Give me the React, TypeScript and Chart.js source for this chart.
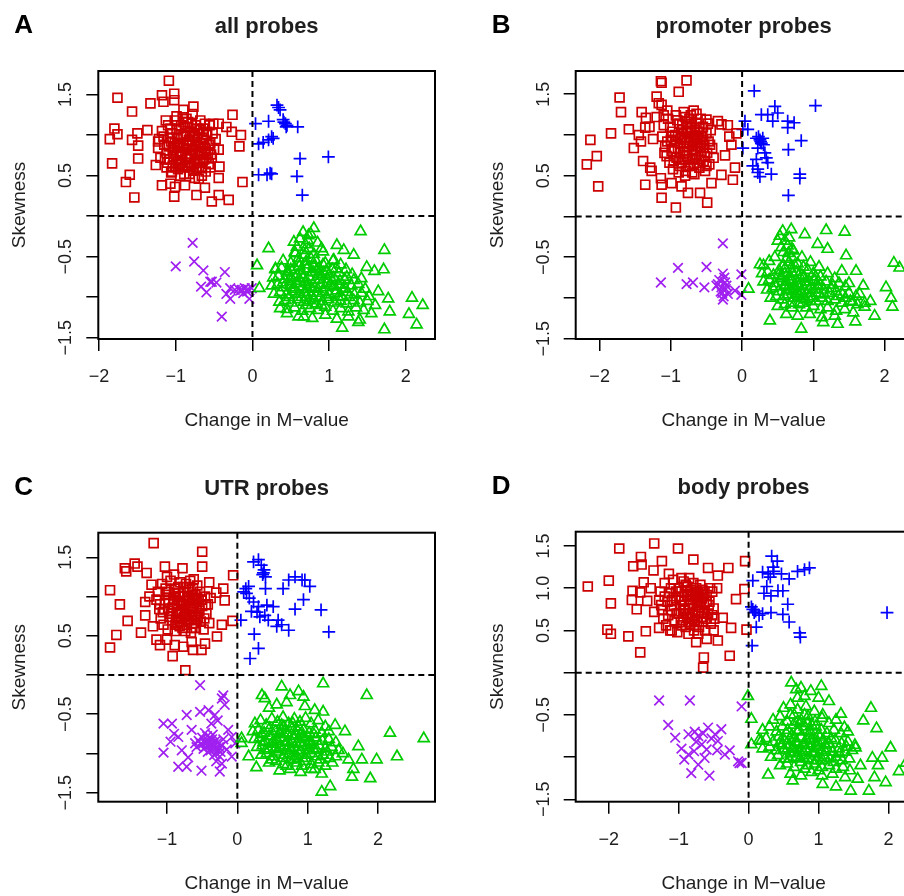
import React, { useEffect, useRef } from "react";
import { Chart, registerables } from "chart.js";
Chart.register(...registerables);

const FONT = '"Liberation Sans", Arial, Helvetica, sans-serif';
const TEXT = "#1e1e1e";
const RED = "#CC0000";
const BLUE = "#0000FF";
const GREEN = "#00CC00";
const PURPLE = "#A020F0";

const LETTERS = ["A", "B", "C", "D"];
const TITLES = ["all probes", "promoter probes", "UTR probes", "body probes"];
const X_LABEL = "Change in M\u2212value";
const Y_LABEL = "Skewness";

const X_TICKS_A = [-2, -1, 0, 1, 2];
const X_TICKS_B = [-2, -1, 0, 1, 2];
const X_TICKS_C = [-1, 0, 1, 2];
const X_TICKS_D = [-2, -1, 0, 1, 2];
const Y_TICKS = [-1.5, -1, -0.5, 0, 0.5, 1, 1.5];
const Y_LABELS_ABC = [-1.5, -0.5, 0.5, 1.5];
const Y_LABELS_D = [-1.5, -0.5, 0.5, 1, 1.5];

const X_RANGE_A = [-2.01, 2.38];
const X_RANGE_B = [-2.336, 2.378];
const X_RANGE_C = [-1.977, 2.81];
const X_RANGE_D = [-2.473, 2.33];
const Y_RANGE_A = [-1.516, 1.79];
const Y_RANGE_B = [-1.503, 1.785];
const Y_RANGE_C = [-1.615, 1.813];
const Y_RANGE_D = [-1.528, 1.669];

type P = [number, number];

// ---------------- Panel A: all probes ----------------
const A_RED: P[] = [
  [-1.09,1.67],[-1.76,1.46],[-1.02,1.51],[-1.02,1.43],[-1.18,1.49],[-1.33,1.39],[-1.16,1.41],[-1.57,1.29],[-1.8,1.08],[-1.76,1.01],
  [-1.86,0.95],[-1.57,0.94],[-1.5,1.02],[-1.37,1.06],[-1.49,0.87],[-1.49,0.71],[-1.83,0.65],[-1.6,0.51],[-1.65,0.42],[-1.54,0.23],
  [-1.02,0.24],[-0.88,0.38],[-0.53,0.18],[-0.31,0.2],[-0.44,0.26],[-0.73,0.26],[-0.62,0.35],[-0.44,0.47],[-0.43,0.61],[-0.13,0.42],
  [-0.17,0.86],[-0.15,1.0],[-0.27,1.04],[-0.26,1.25],[-0.44,1.14],[-0.44,0.82],[-0.77,1.35],[-0.9,1.31],[-0.99,1.23],[-1.07,0.4],
  [-1.18,0.38],[-1.01,0.36],[-1.26,0.63],[-1.23,0.84],[-1.23,0.92],[-0.34,1.1],[-0.51,1.14],[-0.75,0.47],[-0.66,0.59],[-1.05,0.55],
  [-1.22,0.95],[-1.18,1.05],[-1.15,0.88],[-1.12,0.78],[-1.1,1.12],[-1.08,0.7],[-1.06,0.92],[-1.05,1.02],[-1.04,0.62],[-1.02,0.84],
  [-1.0,1.18],[-0.99,0.74],[-0.98,0.96],[-0.97,0.58],[-0.96,1.08],[-0.95,0.86],[-0.94,0.66],[-0.93,1.0],[-0.92,0.78],[-0.91,1.22],
  [-0.9,0.9],[-0.89,0.52],[-0.88,1.1],[-0.87,0.7],[-0.86,0.98],[-0.85,0.82],[-0.84,1.16],[-0.83,0.62],[-0.82,0.92],[-0.81,1.04],
  [-0.8,0.74],[-0.79,0.88],[-0.78,1.26],[-0.77,0.56],[-0.76,0.98],[-0.75,0.8],[-0.74,1.12],[-0.73,0.68],[-0.72,0.94],[-0.71,1.02],
  [-0.7,0.6],[-0.69,0.86],[-0.68,1.18],[-0.67,0.76],[-0.66,0.5],[-0.65,0.96],[-0.64,1.08],[-0.63,0.7],[-0.62,0.84],[-0.61,0.55],
  [-0.6,1.0],[-0.58,0.78],[-0.57,0.64],[-0.56,1.12],[-0.55,0.9],[-0.53,0.72],[-0.52,1.02],[-0.5,0.82],[-0.48,0.95],[-1.2,0.72],
  [-1.16,0.98],[-1.13,1.18],[-1.11,0.66],[-1.09,0.86],[-1.07,1.08],[-1.03,0.74],[-1.01,0.9],[-0.99,1.06],[-0.97,0.68],[-0.95,0.8],
  [-0.93,1.12],[-0.91,0.6],[-0.89,0.84],[-0.87,1.02],[-0.85,0.72],[-0.83,0.94],[-0.81,0.66],[-0.79,1.14],[-0.77,0.82],[-0.75,1.0],
  [-0.73,0.58],[-0.71,0.86],[-0.69,1.06],[-0.67,0.9],[-0.65,0.68],[-0.63,0.94],[-0.61,0.8],[-0.59,1.04],[-0.57,0.88],[-0.55,0.6],
  [-0.54,0.76],[-1.06,0.54],[-1.0,0.6],[-0.94,0.5],[-0.9,1.16],[-0.86,1.2],[-0.82,0.52],[-0.76,0.64],[-0.7,0.46],[-0.66,0.6],[-0.62,1.14],
  [-0.98,0.88],[-0.94,0.76],[-0.9,1.0],[-0.86,0.88],[-0.82,0.76],[-0.78,1.0],[-0.74,0.88],[-0.7,0.76],[-0.96,0.64],[-0.88,0.62],
  [-0.8,0.6],[-1.04,0.82],[-1.08,0.96],[-0.72,1.08],[-0.64,0.9],[-0.68,0.66],[-1.12,0.6],[-1.14,0.7],[-0.6,0.72],[-0.84,1.1]
];
const A_BLUE: P[] = [
  [0.32,1.37],[0.36,1.31],[0.34,1.34],[0.04,1.14],[0.21,1.17],[0.4,1.19],[0.43,1.14],[0.45,1.12],[0.59,1.1],[0.41,1.16],
  [0.44,1.1],[0.08,0.89],[0.14,0.91],[0.21,0.94],[0.27,0.96],[0.25,0.98],[0.62,0.71],[0.99,0.73],[0.08,0.51],[0.19,0.51],
  [0.23,0.53],[0.25,0.52],[0.58,0.49],[0.65,0.26]
];
const A_GREEN: P[] = [
  [0.21,-0.4],[0.06,-0.61],[0.09,-0.89],[1.41,-0.19],[1.72,-0.42],[1.71,-0.66],[1.59,-0.68],[1.49,-0.63],[1.32,-0.48],[2.08,-1.01],
  [2.22,-1.1],[2.04,-1.21],[2.14,-1.34],[1.72,-1.4],[1.77,-1.02],[1.79,-1.18],[1.64,-0.93],[1.38,-1.31],[1.17,-1.38],[0.67,-1.24],
  [0.45,-1.2],[0.36,-1.14],[0.8,-0.15],[0.73,-0.24],[0.54,-0.32],[0.9,-0.4],[1.1,-0.36],[1.19,-0.42],[1.06,-0.54],[0.3,-0.65],[0.56,-0.46],
  [0.55,-0.45],[0.68,-0.42],[0.8,-0.47],[0.92,-0.44],[0.62,-0.28],[0.72,-0.3],[0.85,-0.33],[0.66,-0.2],[0.76,-0.22],
  [0.4,-0.55],[0.5,-0.58],[0.6,-0.52],[0.7,-0.56],[0.82,-0.54],[0.95,-0.58],[1.05,-0.55],[1.15,-0.6],
  [0.3,-0.66],[0.38,-0.64],[0.46,-0.68],[0.55,-0.63],[0.63,-0.67],[0.71,-0.65],[0.79,-0.69],[0.87,-0.64],[0.96,-0.68],[1.04,-0.66],[1.13,-0.7],[1.22,-0.66],[1.3,-0.72],
  [0.27,-0.76],[0.34,-0.74],[0.42,-0.78],[0.5,-0.75],[0.58,-0.73],[0.66,-0.77],[0.74,-0.75],[0.82,-0.79],[0.9,-0.74],[0.98,-0.78],[1.06,-0.76],[1.14,-0.8],[1.23,-0.75],[1.32,-0.79],[1.42,-0.77],
  [0.25,-0.86],[0.33,-0.84],[0.41,-0.88],[0.49,-0.85],[0.57,-0.83],[0.65,-0.87],[0.73,-0.84],[0.81,-0.88],[0.89,-0.85],[0.97,-0.83],[1.05,-0.87],[1.13,-0.85],[1.21,-0.89],[1.29,-0.86],[1.38,-0.84],[1.47,-0.9],
  [0.28,-0.96],[0.36,-0.94],[0.44,-0.97],[0.52,-0.93],[0.6,-0.96],[0.68,-0.94],[0.76,-0.98],[0.84,-0.95],[0.92,-0.93],[1.0,-0.97],[1.08,-0.95],[1.16,-0.99],[1.24,-0.94],[1.33,-0.97],[1.42,-0.95],[1.52,-0.99],
  [0.35,-1.06],[0.43,-1.04],[0.51,-1.07],[0.59,-1.03],[0.67,-1.06],[0.75,-1.04],[0.83,-1.08],[0.91,-1.05],[0.99,-1.03],[1.07,-1.07],[1.15,-1.05],[1.23,-1.08],[1.32,-1.04],[1.4,-1.07],[1.5,-1.05],[1.6,-1.1],
  [0.45,-1.15],[0.55,-1.13],[0.65,-1.17],[0.75,-1.14],[0.85,-1.16],[0.95,-1.12],[1.05,-1.17],[1.15,-1.14],[1.25,-1.18],[1.35,-1.13],[1.45,-1.16],[1.55,-1.2],
  [0.6,-1.24],[0.78,-1.26],[0.95,-1.22],[1.1,-1.27],[1.25,-1.24],[1.4,-1.28],
  [0.7,-0.6],[0.62,-0.8],[0.78,-0.9],[0.86,-0.72],[0.7,-1.0],[0.95,-0.88],[0.55,-0.9],[0.64,-0.72],[0.88,-1.0],[1.1,-0.92],[0.5,-0.8],[0.8,-0.62],[1.0,-0.72],[0.74,-0.4],[0.69,-0.35],[0.58,-0.38],
  [0.45,-0.7],[0.53,-0.88],[0.61,-0.62],[0.69,-0.82],[0.77,-0.7],[0.85,-0.9],[0.93,-0.7],[1.01,-0.85],[1.09,-0.65],[0.48,-1.0],
  [0.56,-0.76],[0.64,-1.0],[0.72,-0.9],[0.8,-1.02],[0.88,-0.78],[0.96,-1.0],[1.04,-0.8],[1.12,-1.0],[0.4,-0.82],[0.6,-0.58],
  [0.76,-0.52],[0.84,-0.66],[0.68,-0.48],[0.92,-0.6],[1.18,-0.9],[1.26,-1.0],[0.7,-1.1],[0.9,-1.1],[1.2,-0.78],[0.5,-0.66]
];
const A_PURPLE: P[] = [
  [-0.78,-0.33],[-1.0,-0.62],[-0.76,-0.56],[-0.64,-0.67],[-0.53,-0.81],[-0.47,-0.82],[-0.36,-0.69],[-0.67,-0.87],[-0.6,-0.94],[-0.34,-0.96],
  [-0.29,-0.89],[-0.29,-1.02],[-0.23,-0.91],[-0.14,-0.91],[-0.1,-0.89],[-0.07,-0.93],[-0.04,-1.02],[-0.01,-0.89],[-0.4,-1.24],[-0.55,-0.81],
  [-0.18,-0.9],[-0.12,-0.95],[-0.06,-0.9],[-0.16,-0.92]
];

// ---------------- Panel B: promoter probes ----------------
const B_RED: P[] = [
  [-1.14,1.66],[-1.13,1.64],[-0.78,1.67],[-0.89,1.53],[-1.72,1.46],[-1.7,1.28],[-2.13,0.94],[-2.04,0.74],[-2.18,0.64],[-2.02,0.37],
  [-1.84,1.02],[-1.59,1.07],[-1.41,1.28],[-1.2,1.47],[-1.17,1.39],[-1.13,1.37],[-1.35,1.21],[-1.36,1.09],[-1.52,0.84],[-1.39,0.68],
  [-1.29,0.6],[-1.36,0.39],[-1.14,0.47],[-1.13,0.23],[-0.93,0.11],[-0.76,0.29],[-0.59,0.29],[-0.49,0.17],[-0.43,0.41],[-0.29,0.51],
  [-0.13,0.45],[-0.1,0.6],[-0.08,1.02],[-0.15,0.88],[-0.29,1.13],[-0.34,1.17],[-0.5,1.19],[-0.99,0.41],[-0.85,0.37],[-1.13,0.39],
  [-1.27,0.56],[-1.45,1.0],[-1.42,0.92],[-1.3,1.1],[-1.25,0.95],[-0.2,1.12],[-0.24,0.75],[-0.18,0.98],[-1.2,1.22],[-1.1,1.24],[-1.05,1.3],
  [-1.12,0.98],[-1.1,1.12],[-1.08,0.86],[-1.06,0.74],[-1.04,1.2],[-1.02,0.66],[-1.0,0.94],[-0.98,1.04],[-0.97,0.58],[-0.95,0.84],
  [-0.93,1.24],[-0.92,0.72],[-0.9,0.98],[-0.89,0.54],[-0.88,1.14],[-0.86,0.9],[-0.85,0.66],[-0.84,1.06],[-0.83,0.8],[-0.82,1.28],
  [-0.8,0.94],[-0.79,0.56],[-0.78,1.16],[-0.77,0.74],[-0.76,1.02],[-0.75,0.86],[-0.74,1.2],[-0.73,0.62],[-0.72,0.96],[-0.71,1.08],
  [-0.7,0.7],[-0.69,0.88],[-0.68,1.3],[-0.67,0.52],[-0.66,1.0],[-0.65,0.8],[-0.64,1.14],[-0.63,0.66],[-0.62,0.94],[-0.61,1.04],
  [-0.6,0.6],[-0.59,0.84],[-0.58,1.2],[-0.57,0.74],[-0.56,0.98],[-0.55,1.1],[-0.54,0.68],[-0.53,0.88],[-0.52,0.56],[-0.5,1.02],
  [-0.49,0.78],[-0.47,0.92],[-0.46,0.64],[-0.44,1.06],[-0.42,0.84],[-0.4,0.72],[-1.09,0.78],[-1.05,0.92],[-1.01,1.1],[-0.99,0.8],
  [-0.96,0.68],[-0.94,1.0],[-0.91,1.18],[-0.87,0.78],[-0.84,0.98],[-0.81,0.7],[-0.78,0.9],[-0.76,0.62],[-0.73,1.1],[-0.7,0.82],
  [-0.68,0.98],[-0.66,0.72],[-0.63,0.9],[-0.6,1.08],[-0.58,0.8],[-0.55,0.94],[-0.52,0.74],[-0.5,0.62],[-0.48,1.14],[-0.45,0.88],
  [-0.8,1.22],[-0.72,1.24],[-0.64,1.26],[-0.88,0.62],[-0.8,0.5],[-0.7,0.54],
  [-0.86,0.96],[-0.82,0.86],[-0.78,1.04],[-0.74,0.94],[-0.7,0.8],[-0.66,1.06],[-0.62,0.86],[-0.58,0.98],[-0.9,0.84],[-0.94,0.92],
  [-0.76,0.7],[-0.68,0.64],[-0.84,1.12],[-0.72,1.16],[-0.6,0.7],[-0.54,0.84],[-0.98,0.98],[-0.88,0.7],[-0.64,0.96],[-0.8,0.78]
];
const B_BLUE: P[] = [
  [0.17,1.54],[1.03,1.36],[0.46,1.35],[0.5,1.27],[0.27,1.25],[0.36,1.25],[0.64,1.17],[0.73,1.15],[0.64,1.09],[0.43,1.17],
  [0.04,1.17],[0.01,1.07],[0.08,1.07],[0.2,0.96],[0.25,0.94],[0.27,0.9],[0.29,0.96],[0.22,0.84],[0.01,0.84],[0.83,0.93],
  [0.65,0.82],[0.34,0.72],[0.2,0.7],[0.15,0.62],[0.22,0.54],[0.25,0.49],[0.41,0.52],[0.81,0.52],[0.81,0.47],[0.65,0.26],
  [0.26,0.92],[0.23,0.98],[0.3,0.88],[0.32,0.78],[0.36,0.66],[0.22,0.58]
];
const B_GREEN: P[] = [
  [0.69,-0.16],[0.88,-0.22],[1.18,-0.17],[1.44,-0.19],[1.46,-0.48],[1.2,-0.4],[1.06,-0.34],[0.09,-0.89],[0.25,-0.59],[0.39,-1.28],
  [0.83,-1.38],[1.14,-1.3],[1.34,-1.32],[1.59,-1.29],[1.86,-1.22],[1.72,-1.11],[1.8,-1.04],[2.02,-0.87],[2.13,-0.57],[2.21,-0.63],
  [2.11,-1.11],[2.09,-1.0],[1.6,-0.67],[1.4,-0.67],[0.53,-0.24],[0.57,-0.18],[0.5,-0.3],[0.55,-0.38],[1.65,-0.95],[1.7,-0.85],[1.55,-1.05],[1.5,-0.82],
  [0.3,-0.6],[0.38,-0.55],[0.46,-0.5],[0.58,-0.44],[0.64,-0.36],[0.72,-0.42],[0.84,-0.5],[0.96,-0.56],[1.08,-0.62],
  [0.28,-0.7],[0.36,-0.68],[0.44,-0.72],[0.52,-0.66],[0.6,-0.7],[0.68,-0.64],[0.76,-0.68],[0.84,-0.72],[0.92,-0.66],[1.0,-0.7],[1.1,-0.74],[1.2,-0.7],[1.3,-0.76],
  [0.3,-0.8],[0.38,-0.78],[0.46,-0.82],[0.54,-0.76],[0.62,-0.8],[0.7,-0.78],[0.78,-0.82],[0.86,-0.76],[0.94,-0.8],[1.02,-0.78],[1.1,-0.84],[1.18,-0.8],[1.27,-0.84],[1.36,-0.82],[1.45,-0.86],
  [0.35,-0.9],[0.43,-0.88],[0.51,-0.92],[0.59,-0.86],[0.67,-0.9],[0.75,-0.88],[0.83,-0.92],[0.91,-0.86],[0.99,-0.9],[1.07,-0.94],[1.15,-0.9],[1.23,-0.94],[1.32,-0.92],[1.41,-0.96],[1.5,-0.94],[1.6,-0.98],
  [0.4,-1.0],[0.48,-0.98],[0.56,-1.02],[0.64,-0.96],[0.72,-1.0],[0.8,-0.98],[0.88,-1.02],[0.96,-0.98],[1.04,-1.04],[1.12,-1.0],[1.2,-1.04],[1.3,-1.02],[1.4,-1.06],[1.52,-1.04],[1.62,-1.08],[1.72,-1.06],
  [0.5,-1.1],[0.6,-1.08],[0.7,-1.12],[0.8,-1.08],[0.9,-1.12],[1.0,-1.1],[1.1,-1.14],[1.2,-1.12],[1.32,-1.16],[1.44,-1.14],[1.56,-1.18],
  [0.62,-1.2],[0.78,-1.22],[0.95,-1.2],[1.12,-1.24],[1.3,-1.22],
  [0.66,-0.74],[0.72,-0.86],[0.78,-0.94],[0.84,-0.84],[0.7,-0.92],[0.62,-0.84],[0.9,-0.94],[0.8,-0.72],[0.74,-0.6],[0.66,-0.56],[0.86,-0.62],[0.58,-0.6],[0.96,-1.04],[1.06,-0.86],
  [0.55,-0.74],[0.63,-0.9],[0.71,-0.7],[0.79,-0.86],[0.87,-0.74],[0.95,-0.9],[1.03,-0.74],[0.59,-0.98],[0.67,-0.8],[0.75,-0.96],
  [0.83,-1.0],[0.91,-0.8],[0.99,-1.0],[1.07,-0.8],[0.47,-0.86],[0.51,-0.72],[0.69,-1.06],[0.85,-1.06],[1.15,-0.96],[1.25,-0.88],
  [0.6,-0.64],[0.78,-0.58],[0.7,-0.5],[0.62,-0.52],[1.35,-0.98],[1.45,-1.0],[0.65,-0.45],[0.7,-0.4],[0.6,-0.3],[0.66,-0.26]
];
const B_PURPLE: P[] = [
  [-0.27,-0.33],[-0.9,-0.63],[-0.5,-0.62],[-1.14,-0.81],[-0.78,-0.83],[-0.69,-0.81],[-0.53,-0.87],[-0.27,-0.7],[-0.25,-0.75],[-0.34,-0.83],
  [-0.29,-0.87],[-0.23,-0.89],[-0.2,-0.95],[-0.27,-1.02],[-0.1,-0.91],[-0.01,-0.71],[-0.01,-0.96],[-0.36,-0.85],[-0.24,-0.81],[-0.3,-0.92],
  [-0.26,-0.98],[-0.32,-0.78],[-0.22,-0.85],[-0.28,-0.94]
];

// ---------------- Panel C: UTR probes ----------------
const C_RED: P[] = [
  [-1.19,1.68],[-0.5,1.57],[-1.81,1.08],[-1.67,0.9],[-1.81,0.35],[-1.72,0.51],[-1.56,0.69],[-1.37,0.54],[-1.6,1.36],[-1.58,1.32],
  [-1.46,1.42],[-1.42,1.38],[-1.29,1.3],[-1.03,1.38],[-0.78,1.36],[-0.5,1.38],[-0.06,1.27],[-0.2,1.1],[-0.18,0.95],[-0.07,0.69],
  [-0.22,0.64],[-0.29,0.49],[-0.46,0.4],[-0.63,0.32],[-0.74,0.06],[-0.92,0.24],[-1.1,0.38],[-1.15,0.45],[-1.31,0.76],[-1.31,0.93],
  [-1.22,1.15],[-0.89,0.38],[-0.77,0.36],[-0.51,0.32],[-1.0,1.25],[-0.9,1.28],[-0.62,1.22],[-0.4,1.18],[-0.3,1.05],[-1.25,1.0],
  [-1.2,0.62],[-1.0,0.45],[-0.65,0.42],
  [-1.15,0.96],[-1.13,1.06],[-1.11,0.84],[-1.09,0.72],[-1.07,1.16],[-1.05,0.64],[-1.03,0.92],[-1.01,1.02],[-0.99,0.58],[-0.97,0.82],
  [-0.95,1.2],[-0.93,0.7],[-0.91,0.96],[-0.89,0.56],[-0.88,1.1],[-0.86,0.88],[-0.85,0.66],[-0.84,1.04],[-0.82,0.78],[-0.81,1.18],
  [-0.8,0.92],[-0.78,0.6],[-0.77,1.12],[-0.76,0.74],[-0.75,1.0],[-0.74,0.84],[-0.73,1.16],[-0.72,0.64],[-0.71,0.94],[-0.7,1.06],
  [-0.69,0.7],[-0.68,0.88],[-0.67,1.2],[-0.66,0.54],[-0.65,0.98],[-0.64,0.8],[-0.63,1.1],[-0.62,0.66],[-0.61,0.92],[-0.6,1.02],
  [-0.59,0.6],[-0.58,0.84],[-0.57,1.14],[-0.56,0.74],[-0.55,0.96],[-0.53,1.06],[-0.52,0.68],[-0.5,0.88],[-0.48,0.58],[-0.46,1.0],
  [-0.44,0.78],[-0.42,0.9],[-0.4,0.66],[-0.38,0.98],[-1.1,0.9],[-1.06,0.8],[-1.02,1.1],[-0.98,0.96],[-0.96,0.74],[-0.92,0.86],
  [-0.9,1.04],[-0.87,0.72],[-0.83,0.94],[-0.79,0.82],[-0.76,1.06],[-0.72,0.78],[-0.69,0.96],[-0.66,0.7],[-0.63,0.86],[-0.6,0.76],
  [-0.57,0.98],[-0.54,0.82],[-0.51,0.96],[-0.47,0.72],[-0.45,0.9],[-0.82,0.62],[-0.74,0.56],[-0.64,0.6],
  [-0.9,0.9],[-0.86,0.8],[-0.82,1.0],[-0.78,0.9],[-0.74,0.76],[-0.7,0.98],[-0.66,0.84],[-0.62,0.96],[-0.94,0.78],[-0.98,1.06],
  [-0.8,0.68],[-0.72,0.7],[-0.84,1.12],[-0.68,1.12],[-0.58,0.7],[-0.54,0.9],[-1.04,0.84],[-0.88,0.64],[-0.64,1.02],[-0.76,0.94]
];
const C_BLUE: P[] = [
  [0.23,1.44],[0.3,1.47],[0.34,1.4],[0.37,1.3],[0.4,1.25],[0.38,1.34],[0.42,0.89],[0.16,1.13],[0.13,1.04],[0.09,1.06],
  [0.17,0.98],[0.23,0.93],[0.3,0.87],[0.2,0.81],[0.32,0.74],[0.39,0.76],[0.51,0.87],[0.58,0.7],[0.56,0.62],[0.63,0.64],
  [0.73,0.57],[0.05,0.7],[0.24,0.52],[0.3,0.34],[0.18,0.21],[0.65,1.1],[0.73,1.21],[0.82,1.25],[0.92,1.21],[0.96,1.21],
  [1.03,1.13],[0.94,0.96],[0.82,0.84],[1.19,0.83],[1.3,0.55],[0.44,0.7],[0.36,1.28],[0.4,1.1],[0.28,0.8],[0.12,1.1]
];
const C_GREEN: P[] = [
  [1.22,-0.11],[1.84,-0.26],[0.87,-0.21],[0.63,-0.15],[0.75,-0.26],[0.56,-0.38],[0.39,-0.3],[0.35,-0.26],[1.22,-0.47],[0.06,-0.81],
  [0.06,-0.87],[0.16,-1.04],[0.27,-1.18],[2.17,-0.74],[2.65,-0.81],[2.27,-1.04],[1.98,-1.08],[1.89,-1.32],[1.63,-1.3],[1.32,-1.42],
  [1.2,-1.49],[1.77,-1.08],[1.58,-1.08],[1.72,-0.91],[1.53,-0.72],[1.39,-0.64],[1.25,-0.66],[0.96,-0.4],[0.94,-0.28],[1.65,-1.2],
  [1.5,-1.0],[0.45,-0.42],[0.7,-0.35],[1.1,-0.45],
  [0.25,-0.62],[0.33,-0.58],[0.41,-0.64],[0.49,-0.56],[0.57,-0.6],[0.65,-0.54],[0.73,-0.62],[0.81,-0.56],[0.89,-0.6],[0.97,-0.55],[1.05,-0.62],[1.15,-0.58],
  [0.22,-0.72],[0.3,-0.7],[0.38,-0.74],[0.46,-0.68],[0.54,-0.72],[0.62,-0.7],[0.7,-0.74],[0.78,-0.68],[0.86,-0.72],[0.94,-0.7],[1.02,-0.74],[1.1,-0.7],[1.2,-0.74],[1.3,-0.72],
  [0.24,-0.82],[0.32,-0.8],[0.4,-0.84],[0.48,-0.78],[0.56,-0.82],[0.64,-0.8],[0.72,-0.84],[0.8,-0.78],[0.88,-0.82],[0.96,-0.8],[1.04,-0.84],[1.12,-0.8],[1.21,-0.84],[1.3,-0.82],[1.4,-0.86],
  [0.28,-0.92],[0.36,-0.9],[0.44,-0.94],[0.52,-0.88],[0.6,-0.92],[0.68,-0.9],[0.76,-0.94],[0.84,-0.88],[0.92,-0.92],[1.0,-0.9],[1.08,-0.94],[1.16,-0.9],[1.25,-0.94],[1.34,-0.92],[1.44,-0.96],
  [0.34,-1.02],[0.42,-1.0],[0.5,-1.04],[0.58,-0.98],[0.66,-1.02],[0.74,-1.0],[0.82,-1.04],[0.9,-0.98],[0.98,-1.02],[1.06,-1.0],[1.14,-1.04],[1.22,-1.02],[1.31,-1.06],[1.4,-1.04],
  [0.45,-1.12],[0.55,-1.1],[0.65,-1.14],[0.75,-1.08],[0.85,-1.12],[0.95,-1.1],[1.05,-1.14],[1.15,-1.12],[1.25,-1.16],[1.35,-1.12],
  [0.6,-1.22],[0.75,-1.2],[0.9,-1.24],[1.05,-1.2],[1.2,-1.26],
  [0.5,-0.86],[0.6,-0.76],[0.7,-0.96],[0.78,-0.86],[0.9,-0.76],[0.66,-0.66],[0.54,-0.94],[1.0,-0.96],[0.86,-1.06],[0.4,-0.96],
  [0.45,-0.78],[0.53,-0.95],[0.61,-0.74],[0.69,-0.86],[0.77,-0.76],[0.85,-0.96],[0.93,-0.78],[1.01,-0.86],[1.09,-0.76],[0.49,-1.08],
  [0.57,-0.84],[0.65,-1.06],[0.73,-0.92],[0.81,-1.08],[0.89,-0.86],[0.97,-1.06],[1.05,-0.88],[1.13,-0.96],[0.37,-0.86],[0.63,-0.64],
  [0.79,-0.62],[0.87,-0.66],[1.18,-1.08],[1.28,-0.98],[0.7,-1.16],[0.92,-1.16],[1.1,-1.2],[0.35,-0.76]
];
const C_PURPLE: P[] = [
  [-0.53,-0.13],[-0.22,-0.3],[-0.2,-0.26],[-1.05,-0.62],[-0.93,-0.62],[-0.72,-0.51],[-0.53,-0.47],[-0.41,-0.45],[-0.32,-0.51],[-1.05,-0.99],
  [-0.84,-1.17],[-0.72,-1.17],[-0.51,-1.22],[-0.25,-1.23],[-0.22,-1.13],[-0.84,-0.79],[-0.79,-0.96],[-0.65,-0.7],[-0.13,-0.7],[-0.08,-0.79],
  [-0.03,-0.87],[-0.08,-1.04],[-0.37,-0.62],[-0.6,-0.87],[-0.9,-0.75],[-0.95,-0.85],[-0.7,-1.05],[-0.15,-0.95],[-0.3,-1.1],[-0.28,-0.58],[-0.18,-0.38],
  [-0.5,-0.8],[-0.47,-0.86],[-0.45,-0.92],[-0.43,-0.78],[-0.41,-0.84],[-0.4,-0.9],[-0.38,-0.96],[-0.36,-0.82],[-0.34,-0.88],[-0.32,-0.94],
  [-0.3,-1.0],[-0.28,-0.86],[-0.26,-0.92],[-0.24,-0.98],[-0.22,-0.9],[-0.48,-0.94],[-0.44,-0.86],[-0.39,-0.8],[-0.35,-0.76],[-0.31,-0.84],
  [-0.27,-0.96],[-0.46,-0.74],[-0.42,-0.98],[-0.33,-1.02],[-0.25,-1.04],[-0.52,-0.88],[-0.55,-0.84],[-0.58,-0.92],[-0.2,-0.82],[-0.37,-0.88]
];

// ---------------- Panel D: body probes ----------------
const D_RED: P[] = [
  [-2.3,1.02],[-2.0,1.09],[-1.85,1.47],[-1.35,1.53],[-1.01,1.47],[-1.97,0.82],[-2.02,0.51],[-1.97,0.46],[-1.72,0.43],[-1.55,0.24],
  [-1.47,0.49],[-1.65,1.26],[-1.54,1.37],[-1.53,1.28],[-1.66,0.97],[-1.67,0.86],[-1.6,0.75],[-1.5,1.07],[-1.24,1.32],[-1.36,1.21],
  [-1.14,1.17],[-0.79,1.34],[-0.58,1.24],[-0.44,1.15],[-0.29,1.24],[-0.05,1.32],[-0.18,0.87],[-0.06,0.99],[-0.25,0.53],[-0.03,0.51],
  [-0.27,0.2],[-0.65,0.06],[-0.64,0.18],[-0.75,0.36],[-0.44,0.38],[-0.37,0.65],[-1.28,0.53],[-1.55,0.95],[-1.45,0.85],[-1.4,1.0],
  [-1.35,0.72],[-0.45,1.0],[-0.5,0.5],[-0.6,0.4],[-1.1,0.5],
  [-1.28,0.86],[-1.26,0.96],[-1.24,0.74],[-1.22,0.64],[-1.2,1.06],[-1.18,0.56],[-1.16,0.84],[-1.14,0.94],[-1.12,0.5],[-1.1,0.74],
  [-1.08,1.1],[-1.06,0.62],[-1.04,0.88],[-1.02,0.48],[-1.0,1.0],[-0.98,0.8],[-0.97,0.6],[-0.96,0.96],[-0.94,0.7],[-0.93,1.08],
  [-0.92,0.84],[-0.9,0.54],[-0.89,1.02],[-0.88,0.66],[-0.87,0.92],[-0.86,0.76],[-0.85,1.12],[-0.84,0.58],[-0.83,0.86],[-0.82,0.98],
  [-0.81,0.64],[-0.8,0.8],[-0.79,1.06],[-0.78,0.5],[-0.77,0.9],[-0.76,0.72],[-0.75,1.0],[-0.74,0.6],[-0.73,0.84],[-0.72,0.94],
  [-0.71,0.54],[-0.7,0.78],[-0.69,1.04],[-0.68,0.66],[-0.67,0.88],[-0.66,0.98],[-0.65,0.6],[-0.64,0.82],[-0.62,0.5],[-0.6,0.92],
  [-0.58,0.7],[-0.56,0.84],[-0.54,0.58],[-0.52,0.96],[-0.5,0.76],[-0.49,0.64],[-1.25,0.8],[-1.2,0.9],[-1.15,0.68],[-1.11,1.0],
  [-1.07,0.8],[-1.03,0.7],[-0.99,0.9],[-0.95,0.56],[-0.91,0.76],[-0.88,0.96],[-0.84,0.7],[-0.8,0.92],[-0.77,0.62],[-0.74,0.8],
  [-0.7,0.9],[-0.67,0.72],[-0.63,0.96],[-0.6,0.64],[-0.57,0.8],[-0.55,1.0],[-0.52,0.68],[-0.86,0.46],[-0.72,0.46],[-0.96,1.12],
  [-0.96,0.86],[-0.92,0.74],[-0.88,0.9],[-0.84,0.8],[-0.8,0.68],[-0.76,0.86],[-0.72,0.74],[-0.68,0.84],[-1.0,0.7],[-1.04,0.96],
  [-0.86,0.6],[-0.78,0.56],[-0.9,1.04],[-0.74,0.96],[-0.64,0.7],[-0.6,0.84],[-1.1,0.86],[-0.94,0.62],[-0.66,0.92],[-0.82,0.92]
];
const D_BLUE: P[] = [
  [0.33,1.38],[0.41,1.32],[0.2,1.19],[0.28,1.17],[0.31,1.13],[0.47,1.17],[0.58,1.11],[0.8,1.22],[0.87,1.24],[0.06,1.09],
  [0.49,0.97],[0.22,0.94],[0.32,0.91],[0.56,0.81],[0.06,0.75],[0.08,0.71],[0.2,0.7],[0.32,0.71],[0.49,0.69],[0.58,0.6],
  [0.11,0.54],[0.73,0.47],[0.74,0.42],[0.05,0.32],[1.98,0.71],[0.04,0.78],[0.35,1.25],[0.36,1.2],[0.26,1.02],[0.42,0.97],
  [0.1,0.73],[0.7,1.2],[0.15,0.68]
];
const D_GREEN: P[] = [
  [-0.01,-0.28],[0.04,-0.55],[0.28,-1.21],[0.61,-0.12],[0.75,-0.18],[1.04,-0.16],[0.89,-0.22],[1.15,-0.34],[1.32,-0.49],[1.75,-0.42],
  [1.64,-0.57],[1.83,-0.66],[2.03,-0.89],[2.15,-1.17],[1.96,-1.3],[1.72,-1.4],[1.46,-1.4],[1.56,-1.26],[1.8,-1.24],[1.91,-1.01],
  [1.77,-1.01],[1.53,-0.89],[1.37,-0.65],[0.04,-0.85],[0.18,-0.81],[0.63,-1.28],[1.06,-1.32],[0.68,-0.2],[0.8,-0.28],[0.7,-0.3],
  [1.0,-0.3],[2.25,-1.07],[1.85,-1.1],[1.6,-1.1],[1.25,-1.35],
  [0.5,-0.42],[0.6,-0.38],[0.7,-0.44],[0.82,-0.4],[0.94,-0.46],[1.06,-0.5],
  [0.35,-0.56],[0.45,-0.52],[0.55,-0.58],[0.65,-0.5],[0.75,-0.56],[0.85,-0.52],[0.95,-0.58],[1.05,-0.54],[1.15,-0.6],[1.25,-0.56],
  [0.2,-0.68],[0.3,-0.64],[0.4,-0.7],[0.48,-0.64],[0.56,-0.68],[0.64,-0.62],[0.72,-0.68],[0.8,-0.64],[0.88,-0.7],[0.96,-0.64],[1.04,-0.68],[1.12,-0.72],[1.22,-0.68],[1.32,-0.72],[1.42,-0.7],
  [0.15,-0.8],[0.25,-0.78],[0.35,-0.82],[0.43,-0.76],[0.51,-0.8],[0.59,-0.78],[0.67,-0.82],[0.75,-0.76],[0.83,-0.8],[0.91,-0.78],[0.99,-0.82],[1.07,-0.8],[1.15,-0.84],[1.24,-0.8],[1.33,-0.84],[1.42,-0.82],[1.52,-0.86],
  [0.2,-0.9],[0.3,-0.88],[0.4,-0.92],[0.48,-0.86],[0.56,-0.9],[0.64,-0.88],[0.72,-0.92],[0.8,-0.86],[0.88,-0.9],[0.96,-0.88],[1.04,-0.92],[1.12,-0.9],[1.2,-0.94],[1.29,-0.9],[1.38,-0.94],[1.48,-0.92],
  [0.32,-1.0],[0.42,-0.98],[0.52,-1.02],[0.6,-0.96],[0.68,-1.0],[0.76,-0.98],[0.84,-1.02],[0.92,-0.96],[1.0,-1.0],[1.08,-0.98],[1.16,-1.02],[1.25,-1.0],[1.34,-1.04],[1.44,-1.02],
  [0.45,-1.1],[0.55,-1.08],[0.65,-1.12],[0.75,-1.06],[0.85,-1.1],[0.95,-1.08],[1.05,-1.12],[1.15,-1.1],[1.25,-1.14],[1.35,-1.12],[1.45,-1.16],
  [0.6,-1.2],[0.75,-1.22],[0.9,-1.18],[1.05,-1.22],[1.2,-1.2],[1.38,-1.24],
  [0.62,-0.74],[0.7,-0.84],[0.78,-0.94],[0.86,-0.74],[0.66,-0.94],[0.9,-0.84],[0.58,-0.86],[0.74,-0.6],[0.84,-0.6],[1.0,-0.74],[1.1,-0.86],[0.96,-1.04],
  [0.54,-0.72],[0.62,-0.9],[0.7,-0.7],[0.78,-0.86],[0.86,-0.78],[0.94,-0.94],[1.02,-0.76],[1.1,-0.94],[1.18,-0.78],[0.58,-1.02],
  [0.66,-0.78],[0.74,-1.02],[0.82,-0.92],[0.9,-1.04],[0.98,-0.86],[1.06,-1.04],[1.14,-0.84],[1.22,-1.06],[0.5,-0.92],[0.7,-0.58],
  [0.8,-0.5],[0.9,-0.62],[0.6,-0.5],[1.3,-0.96],[1.4,-0.88],[0.8,-1.14],[1.0,-1.16],[0.44,-0.84]
];
const D_PURPLE: P[] = [
  [-1.28,-0.33],[-0.84,-0.33],[-0.1,-0.4],[-1.15,-0.62],[-1.05,-0.77],[-0.96,-0.9],[-0.86,-0.97],[-0.77,-0.7],[-0.72,-0.75],[-0.58,-0.65],
  [-0.48,-0.73],[-0.39,-0.67],[-0.44,-0.81],[-0.6,-0.91],[-0.63,-1.01],[-0.72,-1.09],[-0.82,-1.19],[-0.56,-1.22],[-0.34,-0.97],[-0.27,-0.92],
  [-0.15,-1.05],[-0.13,-1.07],[-0.1,-1.07],[-0.86,-0.73],[-0.67,-0.85],[-0.75,-0.82],[-0.53,-0.78],[-0.65,-0.72],[-0.45,-0.92],[-0.92,-1.03],[-0.78,-0.93]
];

// ---------------- layout of the four panels ----------------
type Panel = {
  idx: number; left: number; top: number; w: number; h: number;
  box: { l: number; t: number; r: number; b: number };
  xRange: number[]; yRange: number[]; xTicks: number[]; yLabels: number[];
  red: P[]; blue: P[]; green: P[]; purple: P[];
};

const PANELS: Panel[] = [
  { idx: 0, left: 0, top: 0, w: 450, h: 450, box: { l: 98.3, t: 71, r: 435, b: 339 },
    xRange: X_RANGE_A, yRange: Y_RANGE_A, xTicks: X_TICKS_A, yLabels: Y_LABELS_ABC,
    red: A_RED, blue: A_BLUE, green: A_GREEN, purple: A_PURPLE },
  { idx: 1, left: 450, top: 0, w: 470, h: 450, box: { l: 125.7, t: 71, r: 462.7, b: 339 },
    xRange: X_RANGE_B, yRange: Y_RANGE_B, xTicks: X_TICKS_B, yLabels: Y_LABELS_ABC,
    red: B_RED, blue: B_BLUE, green: B_GREEN, purple: B_PURPLE },
  { idx: 2, left: 0, top: 450, w: 450, h: 446, box: { l: 98.3, t: 82.7, r: 435, b: 351.7 },
    xRange: X_RANGE_C, yRange: Y_RANGE_C, xTicks: X_TICKS_C, yLabels: Y_LABELS_ABC,
    red: C_RED, blue: C_BLUE, green: C_GREEN, purple: C_PURPLE },
  { idx: 3, left: 450, top: 450, w: 470, h: 446, box: { l: 125.7, t: 81.7, r: 462.7, b: 351.7 },
    xRange: X_RANGE_D, yRange: Y_RANGE_D, xTicks: X_TICKS_D, yLabels: Y_LABELS_D,
    red: D_RED, blue: D_BLUE, green: D_GREEN, purple: D_PURPLE },
];

const TICK_LEN = 12;

function fmtX(v: number) {
  return v < 0 ? "\u2212" + Math.abs(v) : String(v);
}
function fmtY(v: number) {
  const s = Math.abs(v).toFixed(1);
  return v < 0 ? "\u2212" + s : s;
}

function ds(points: P[], style: string, color: string, radius: number) {
  return {
    data: points.map(([x, y]) => ({ x, y })),
    pointStyle: style,
    pointRadius: radius,
    pointHoverRadius: radius,
    pointBorderColor: color,
    pointBackgroundColor: "rgba(0,0,0,0)",
    pointBorderWidth: 1.7,
    showLine: false,
  };
}

function PanelChart({ p }: { p: Panel }) {
  const ref = useRef<HTMLCanvasElement | null>(null);
  useEffect(() => {
    if (!ref.current) return;
    const decor = {
      id: "decor",
      afterDatasetsDraw(chart: any) {
        const { ctx, chartArea: ca, scales } = chart;
        const xs = scales.x, ys = scales.y;
        ctx.save();
        ctx.strokeStyle = "#000";
        ctx.lineWidth = 2;
        ctx.setLineDash([6, 4]);
        const x0 = xs.getPixelForValue(0);
        const y0 = ys.getPixelForValue(0);
        ctx.beginPath();
        ctx.moveTo(x0, ca.top);
        ctx.lineTo(x0, ca.bottom);
        ctx.moveTo(ca.left, y0);
        ctx.lineTo(ca.right, y0);
        ctx.stroke();
        ctx.setLineDash([]);
        ctx.lineWidth = 2;
        ctx.strokeRect(ca.left, ca.top, ca.right - ca.left, ca.bottom - ca.top);
        ctx.restore();
      },
      afterDraw(chart: any) {
        const { ctx, chartArea: ca, scales } = chart;
        const xs = scales.x, ys = scales.y;
        ctx.save();
        ctx.fillStyle = TEXT;
        ctx.textAlign = "center";
        ctx.textBaseline = "alphabetic";
        ctx.font = `18px ${FONT}`;
        p.xTicks.forEach((v) => ctx.fillText(fmtX(v), xs.getPixelForValue(v), ca.bottom + 43));
        p.yLabels.forEach((v) => {
          ctx.save();
          ctx.translate(ca.left - 27, ys.getPixelForValue(v));
          ctx.rotate(-Math.PI / 2);
          ctx.fillText(fmtY(v), 0, 0);
          ctx.restore();
        });
        ctx.font = `19px ${FONT}`;
        ctx.fillText(X_LABEL, (ca.left + ca.right) / 2, ca.bottom + 87);
        ctx.save();
        ctx.translate(ca.left - 73, (ca.top + ca.bottom) / 2);
        ctx.rotate(-Math.PI / 2);
        ctx.fillText(Y_LABEL, 0, 0);
        ctx.restore();
        ctx.font = `bold 22px ${FONT}`;
        ctx.fillText(TITLES[p.idx], (ca.left + ca.right) / 2, ca.top - 38);
        ctx.fillStyle = "#000";
        ctx.textAlign = "left";
        ctx.font = `bold 26px ${FONT}`;
        ctx.fillText(LETTERS[p.idx], ca.left - 84, ca.top - 38);
        ctx.restore();
      },
    };
    const gridOpts = {
      drawOnChartArea: false,
      drawTicks: true,
      tickLength: TICK_LEN,
      color: "#000",
      lineWidth: 1.5,
    };
    const chart = new Chart(ref.current, {
      type: "scatter",
      data: {
        datasets: [
          ds(p.red, "rect", RED, 6.3),
          ds(p.blue, "cross", BLUE, 6.4),
          ds(p.green, "triangle", GREEN, 6.3),
          ds(p.purple, "crossRot", PURPLE, 6.8),
        ] as any,
      },
      options: {
        responsive: false,
        animation: false,
        events: [],
        layout: {
          padding: {
            left: p.box.l - TICK_LEN,
            top: p.box.t,
            right: p.w - p.box.r,
            bottom: p.h - p.box.b - TICK_LEN,
          },
        },
        plugins: {
          legend: { display: false },
          tooltip: { enabled: false },
          title: { display: false },
        },
        scales: {
          x: {
            type: "linear",
            min: p.xRange[0],
            max: p.xRange[1],
            afterBuildTicks: (s: any) => { s.ticks = p.xTicks.map((v) => ({ value: v })); },
            afterFit: (s: any) => { s.height = TICK_LEN; },
            ticks: { display: false },
            grid: gridOpts,
            border: { display: false },
          },
          y: {
            type: "linear",
            min: p.yRange[0],
            max: p.yRange[1],
            afterBuildTicks: (s: any) => { s.ticks = Y_TICKS.map((v) => ({ value: v })); },
            afterFit: (s: any) => { s.width = TICK_LEN; },
            ticks: { display: false },
            grid: gridOpts,
            border: { display: false },
          },
        },
      } as any,
      plugins: [decor],
    });
    return () => chart.destroy();
  }, [p]);
  return (
    <canvas
      ref={ref}
      width={p.w}
      height={p.h}
      style={{ position: "absolute", left: p.left, top: p.top, width: p.w, height: p.h }}
    />
  );
}

export default function App() {
  return (
    <div
      style={{
        position: "absolute",
        left: 0,
        top: 0,
        width: 904,
        height: 896,
        overflow: "hidden",
        background: "#fff",
      }}
    >
      {PANELS.map((p) => (
        <PanelChart key={p.idx} p={p} />
      ))}
    </div>
  );
}
